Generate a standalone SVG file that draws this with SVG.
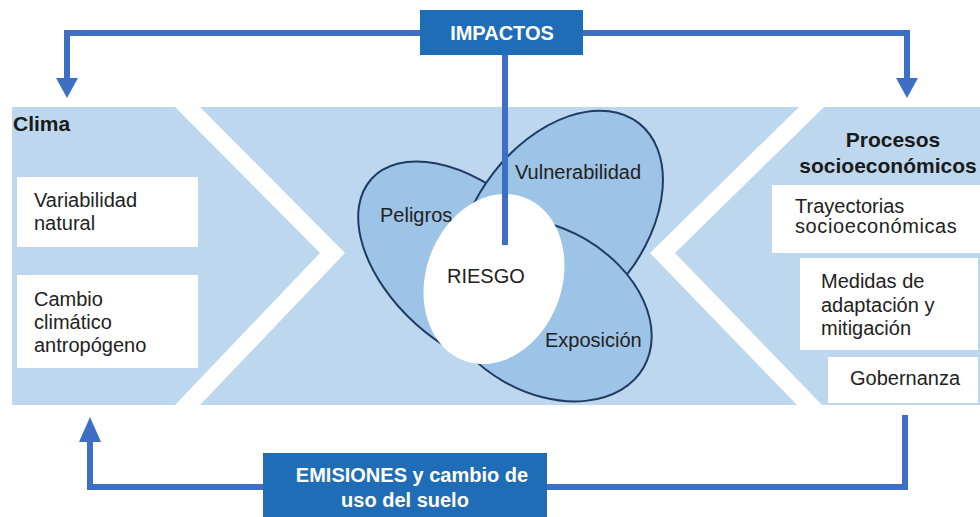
<svg xmlns="http://www.w3.org/2000/svg" width="980" height="517" viewBox="0 0 980 517">
<defs>
<style>
.t{font-family:"Liberation Sans",Arial,sans-serif;font-size:20px;fill:#222}
.b{font-family:"Liberation Sans",Arial,sans-serif;font-weight:bold;fill:#1a1a1a}
.w{font-family:"Liberation Sans",Arial,sans-serif;font-weight:bold;font-size:20px;fill:#fff}
.box{fill:#fff}
.hdr{fill:#1f6db7}
.lobe{fill:#9dc3e6;stroke:#1f3b63;stroke-width:2}
.con{fill:none;stroke:#3d6fc4;stroke-width:6}
.ah{fill:#3d6fc4}
</style>
</defs>
<rect width="980" height="517" fill="#fff"/>
<g id="panel">
<rect x="12" y="107" width="968" height="298" fill="#bdd7ee"/>
<polygon points="175,107 200,107 345,253 200,405 175,405 320,253" fill="#fff"/>
<polygon points="799,107 824,107 675,253 822,405 797,405 650,253" fill="#fff"/>
</g>
<g id="clima">
<text class="b" x="13" y="131" font-size="21">Clima</text>
</g>
<g id="variabilidad">
<rect class="box" x="17" y="177" width="181" height="70"/>
<text class="t" x="34" y="207">Variabilidad</text>
<text class="t" x="34" y="230">natural</text>
</g>
<g id="cambio">
<rect class="box" x="17" y="275" width="181" height="93"/>
<text class="t" x="34" y="306">Cambio</text>
<text class="t" x="34" y="329">climático</text>
<text class="t" x="34" y="352">antropógeno</text>
</g>
<g id="procesos">
<text class="b" x="893" y="147" font-size="21" text-anchor="middle">Procesos</text>
<text class="b" x="888" y="173" font-size="21" text-anchor="middle">socioeconómicos</text>
</g>
<g id="trayectorias">
<rect class="box" x="772" y="185" width="208" height="68"/>
<text class="t" x="795" y="213">Trayectorias</text>
<text class="t" x="795" y="233" letter-spacing="0.6">socioeconómicas</text>
</g>
<g id="medidas">
<rect class="box" x="800" y="258" width="178" height="92"/>
<text class="t" x="821" y="288">Medidas de</text>
<text class="t" x="821" y="312">adaptación y</text>
<text class="t" x="821" y="335">mitigación</text>
</g>
<g id="gobernanza">
<rect class="box" x="828" y="357" width="150" height="46"/>
<text class="t" x="905" y="385" text-anchor="middle">Gobernanza</text>
</g>
<g id="riesgo">
<ellipse class="lobe" cx="0" cy="0" rx="130" ry="78" transform="translate(468 266) rotate(42)"/>
<ellipse class="lobe" cx="0" cy="0" rx="128" ry="84" transform="translate(560 224) rotate(-52)"/>
<ellipse class="lobe" cx="0" cy="0" rx="115" ry="82" transform="translate(544 310) rotate(30)"/>
<ellipse cx="0" cy="0" rx="87" ry="68" fill="#fff" transform="translate(494 279) rotate(-70)"/>
<text class="t" x="380" y="222">Peligros</text>
<text class="t" x="515" y="179">Vulnerabilidad</text>
<text class="t" x="545" y="347">Exposición</text>
<text class="t" x="447" y="283">RIESGO</text>
</g>
<g id="connectors">
<polyline class="con" points="420,33 67,33 67,80"/>
<polygon class="ah" points="56,78 78,78 67,98"/>
<polyline class="con" points="583,33 907,33 907,80"/>
<polygon class="ah" points="896,78 918,78 907,98"/>
<line class="con" x1="505" y1="55" x2="505" y2="245"/>
<polyline class="con" points="905,415 905,487 547,487"/>
<polyline class="con" points="263,487 90,487 90,440"/>
<polygon class="ah" points="79,442 101,442 90,417"/>
</g>
<g id="impactos">
<rect class="hdr" x="420" y="10" width="163" height="45"/>
<text class="w" x="502" y="40" text-anchor="middle" font-size="21">IMPACTOS</text>
</g>
<g id="emisiones">
<rect class="hdr" x="263" y="453" width="284" height="64"/>
<text class="w" x="412" y="482" text-anchor="middle">EMISIONES y cambio de</text>
<text class="w" x="405" y="507" text-anchor="middle">uso del suelo</text>
</g>
</svg>
